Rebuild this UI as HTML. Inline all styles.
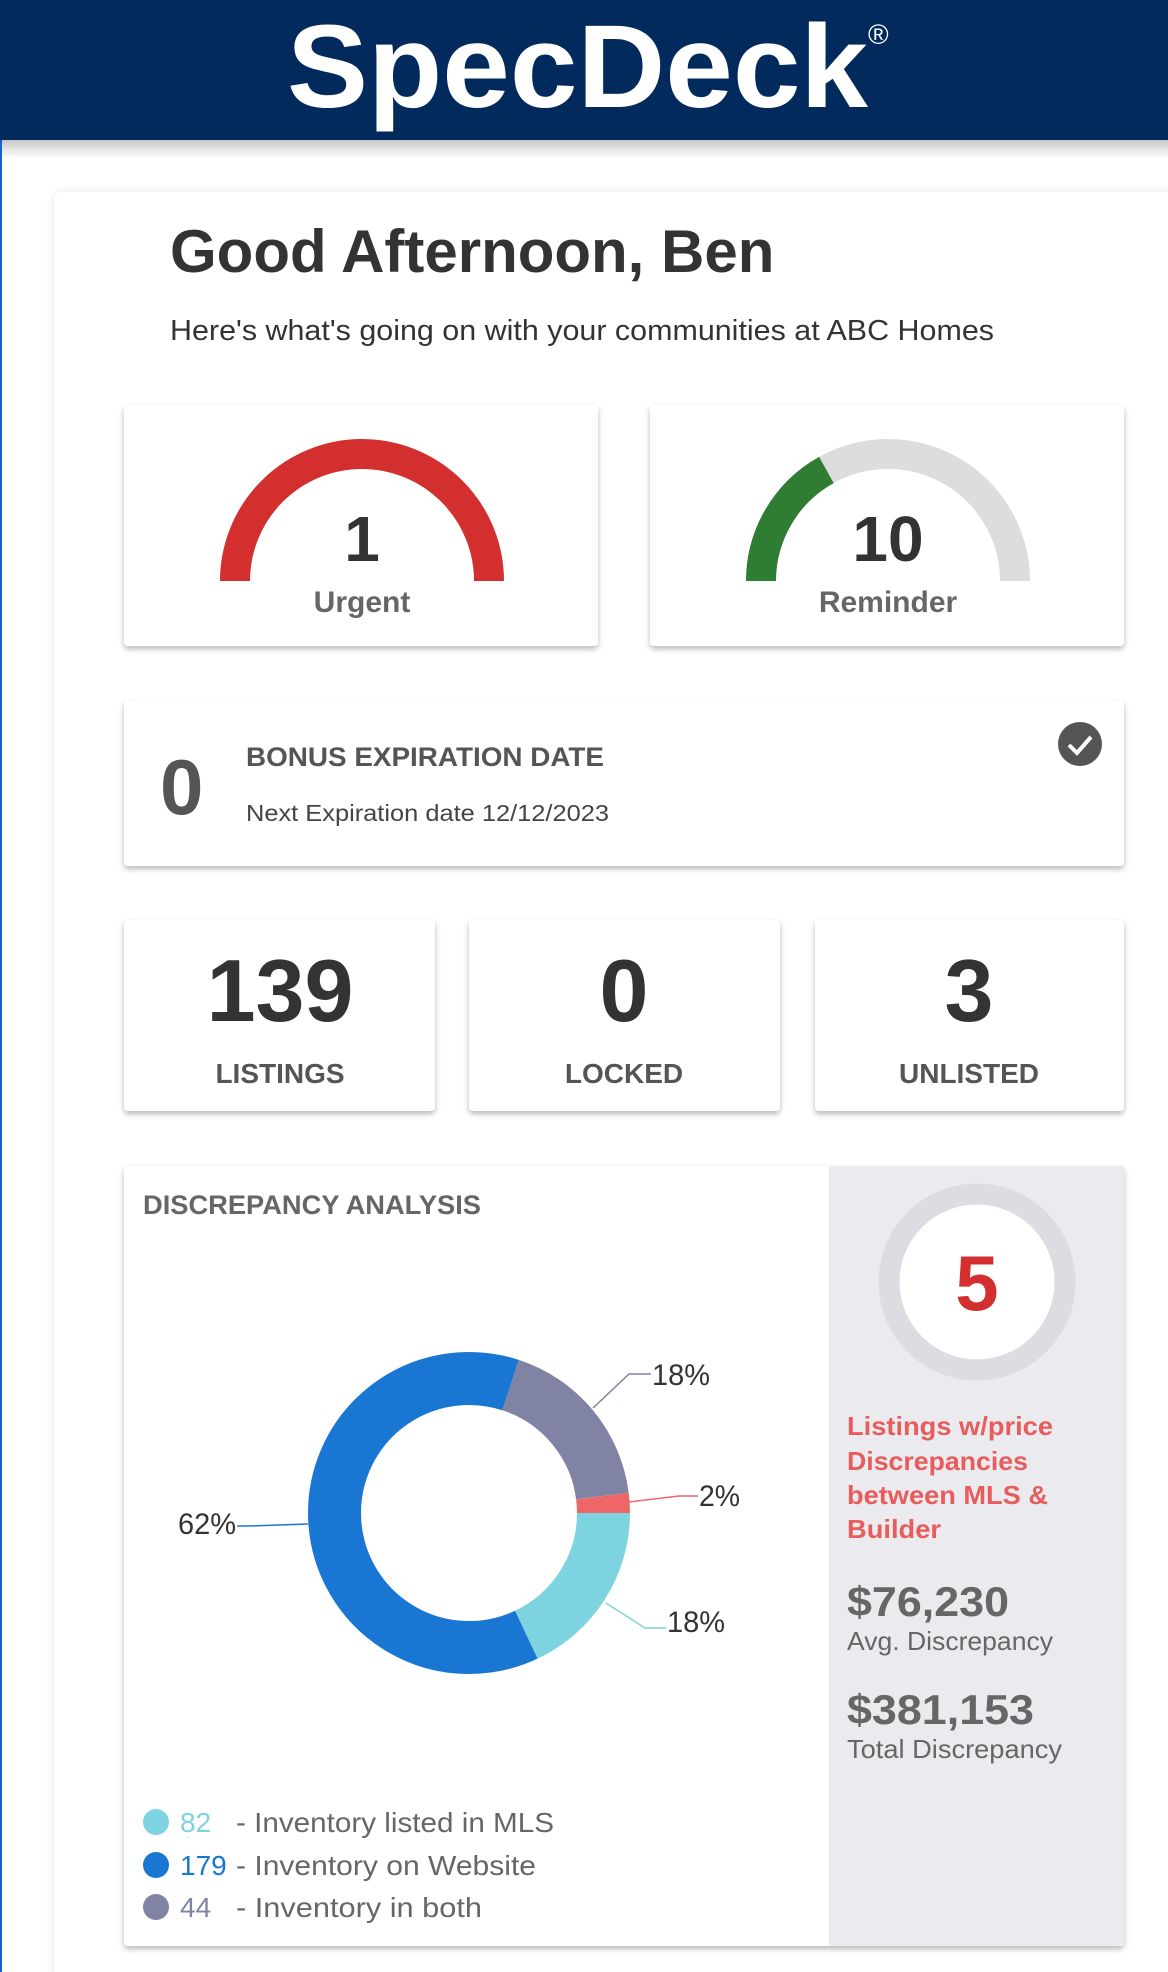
<!DOCTYPE html>
<html><head><meta charset="utf-8"><style>
html,body{margin:0;padding:0;background:#fff;width:1168px;height:1972px;overflow:hidden}
svg{display:block;font-family:"Liberation Sans",Arial,sans-serif}
</style></head><body>
<svg width="1168" height="1972" viewBox="0 0 1168 1972" xmlns="http://www.w3.org/2000/svg">
<defs>
<filter id="sh" x="-10%" y="-10%" width="120%" height="130%"><feDropShadow dx="0" dy="3" stdDeviation="3" flood-color="#000" flood-opacity="0.28"/></filter>
<filter id="sh2" x="-10%" y="-10%" width="120%" height="120%"><feDropShadow dx="0" dy="0" stdDeviation="4" flood-color="#000" flood-opacity="0.10"/></filter>
<linearGradient id="hs" x1="0" y1="0" x2="0" y2="1"><stop offset="0" stop-color="#000" stop-opacity="0.22"/><stop offset="1" stop-color="#000" stop-opacity="0"/></linearGradient>
</defs>
<rect x="0" y="140" width="1168" height="1832" fill="#fff"/>
<rect x="0" y="140" width="1168" height="18" fill="url(#hs)"/>
<rect x="0" y="140" width="2" height="1832" fill="#1a5fd6"/>
<!-- header -->
<rect x="0" y="0" width="1168" height="140" fill="#022a5c"/>
<text x="287" y="107" font-size="118" font-weight="bold" fill="#fff" textLength="581" lengthAdjust="spacingAndGlyphs">SpecDeck</text>
<text x="868" y="44" font-size="28" fill="#fff">®</text>
<!-- main card -->
<rect x="54" y="192" width="1130" height="1800" rx="6" fill="#fff" filter="url(#sh2)"/>
<text x="170" y="272" font-size="60" font-weight="bold" fill="#333">Good Afternoon, Ben</text>
<text x="170" y="340" font-size="29" fill="#333" textLength="824" lengthAdjust="spacingAndGlyphs">Here's what's going on with your communities at ABC Homes</text>
<!-- gauge cards -->
<rect x="124" y="405" width="474" height="241" rx="4" fill="#fff" filter="url(#sh)"/>
<rect x="650" y="405" width="474" height="241" rx="4" fill="#fff" filter="url(#sh)"/>
<path d="M235,581 A127,127 0 0 1 489,581" fill="none" stroke="#d32f2f" stroke-width="30"/>
<text x="362" y="561" text-anchor="middle" font-size="64" font-weight="bold" fill="#333">1</text>
<text x="362" y="612" text-anchor="middle" font-size="30" font-weight="bold" fill="#666">Urgent</text>
<path d="M761,581 A127,127 0 0 1 1015,581" fill="none" stroke="#ddd" stroke-width="30"/>
<path d="M761,581 A127,127 0 0 1 826.4,470" fill="none" stroke="#2e7d32" stroke-width="30"/>
<text x="888" y="561" text-anchor="middle" font-size="64" font-weight="bold" fill="#333">10</text>
<text x="888" y="612" text-anchor="middle" font-size="30" font-weight="bold" fill="#666">Reminder</text>
<!-- bonus -->
<rect x="124" y="700" width="1000" height="166" rx="4" fill="#fff" filter="url(#sh)"/>
<text x="160" y="814" font-size="78" font-weight="bold" fill="#555">0</text>
<text x="246" y="766" font-size="27" font-weight="bold" fill="#555" textLength="358" lengthAdjust="spacingAndGlyphs">BONUS EXPIRATION DATE</text>
<text x="246" y="821" font-size="23" fill="#444" textLength="363" lengthAdjust="spacingAndGlyphs">Next Expiration date 12/12/2023</text>
<circle cx="1080" cy="744" r="22" fill="#555"/>
<path d="M1069,745 L1077,753 L1091,737" fill="none" stroke="#fff" stroke-width="4"/>
<!-- stats -->
<rect x="124" y="920" width="311" height="191" rx="4" fill="#fff" filter="url(#sh)"/>
<rect x="469" y="920" width="311" height="191" rx="4" fill="#fff" filter="url(#sh)"/>
<rect x="815" y="920" width="309" height="191" rx="4" fill="#fff" filter="url(#sh)"/>
<g text-anchor="middle" font-weight="bold">
<text x="280" y="1021" font-size="88" fill="#333">139</text>
<text x="624" y="1021" font-size="88" fill="#333">0</text>
<text x="969" y="1021" font-size="88" fill="#333">3</text>
<text x="280" y="1083" font-size="28" fill="#555">LISTINGS</text>
<text x="624" y="1083" font-size="28" fill="#555">LOCKED</text>
<text x="969" y="1083" font-size="28" fill="#555">UNLISTED</text>
</g>
<!-- discrepancy -->
<rect x="124" y="1166" width="1000" height="780" rx="4" fill="#fff" filter="url(#sh)"/>
<rect x="829" y="1166" width="295" height="780" fill="#ebebef"/>
<text x="143" y="1214" font-size="27" font-weight="bold" fill="#666" textLength="338" lengthAdjust="spacingAndGlyphs">DISCREPANCY ANALYSIS</text>
<g fill="none" stroke-width="53">
<path d="M603.5,1513 A134.5,134.5 0 0 1 526.3,1634.7" stroke="#7dd3df"/>
<path d="M526.3,1634.7 A134.5,134.5 0 1 1 510.6,1385.1" stroke="#1976d2"/>
<path d="M510.6,1385.1 A134.5,134.5 0 0 1 602.4,1496.1" stroke="#8083a3"/>
<path d="M602.4,1496.1 A134.5,134.5 0 0 1 603.5,1513" stroke="#ee6666"/>
</g>
<g fill="none" stroke-width="1.5">
<polyline points="593,1408 629,1374 651,1374" stroke="#8083a3"/>
<polyline points="629,1502 679,1496 698,1496" stroke="#ee6666"/>
<polyline points="606,1603 645,1628 666,1628" stroke="#7dd3df"/>
<polyline points="308,1524 249,1526 237,1526" stroke="#1976d2"/>
</g>
<g font-size="30" fill="#333">
<text x="652" y="1385" textLength="58" lengthAdjust="spacingAndGlyphs">18%</text>
<text x="699" y="1506" textLength="41" lengthAdjust="spacingAndGlyphs">2%</text>
<text x="667" y="1632" textLength="58" lengthAdjust="spacingAndGlyphs">18%</text>
<text x="178" y="1534" textLength="58" lengthAdjust="spacingAndGlyphs">62%</text>
</g>
<circle cx="156" cy="1822" r="13" fill="#7dd3df"/>
<circle cx="156" cy="1865" r="13" fill="#1976d2"/>
<circle cx="156" cy="1907" r="13" fill="#8083a3"/>
<g font-size="28">
<text x="180" y="1832" fill="#7dd3df">82</text>
<text x="236" y="1832" fill="#666" textLength="318" lengthAdjust="spacingAndGlyphs">- Inventory listed in MLS</text>
<text x="180" y="1875" fill="#1976d2">179</text>
<text x="236" y="1875" fill="#666" textLength="300" lengthAdjust="spacingAndGlyphs">- Inventory on Website</text>
<text x="180" y="1917" fill="#8083a3">44</text>
<text x="236" y="1917" fill="#666" textLength="246" lengthAdjust="spacingAndGlyphs">- Inventory in both</text>
</g>
<circle cx="977" cy="1282" r="88" fill="#fff" stroke="#dcdce2" stroke-width="21"/>
<text x="977" y="1310" text-anchor="middle" font-size="78" font-weight="bold" fill="#d32f2f">5</text>
<g font-size="26" font-weight="bold" fill="#e85c5c">
<text x="847" y="1435" textLength="206" lengthAdjust="spacingAndGlyphs">Listings w/price</text>
<text x="847" y="1470" textLength="181" lengthAdjust="spacingAndGlyphs">Discrepancies</text>
<text x="847" y="1504" textLength="201" lengthAdjust="spacingAndGlyphs">between MLS &amp;</text>
<text x="847" y="1538" textLength="94" lengthAdjust="spacingAndGlyphs">Builder</text>
</g>
<text x="847" y="1616" font-size="42" font-weight="bold" fill="#666" textLength="162" lengthAdjust="spacingAndGlyphs">$76,230</text>
<text x="847" y="1650" font-size="26" fill="#666" textLength="206" lengthAdjust="spacingAndGlyphs">Avg. Discrepancy</text>
<text x="847" y="1724" font-size="42" font-weight="bold" fill="#666" textLength="187" lengthAdjust="spacingAndGlyphs">$381,153</text>
<text x="847" y="1758" font-size="26" fill="#666" textLength="215" lengthAdjust="spacingAndGlyphs">Total Discrepancy</text>
</svg>
</body></html>
